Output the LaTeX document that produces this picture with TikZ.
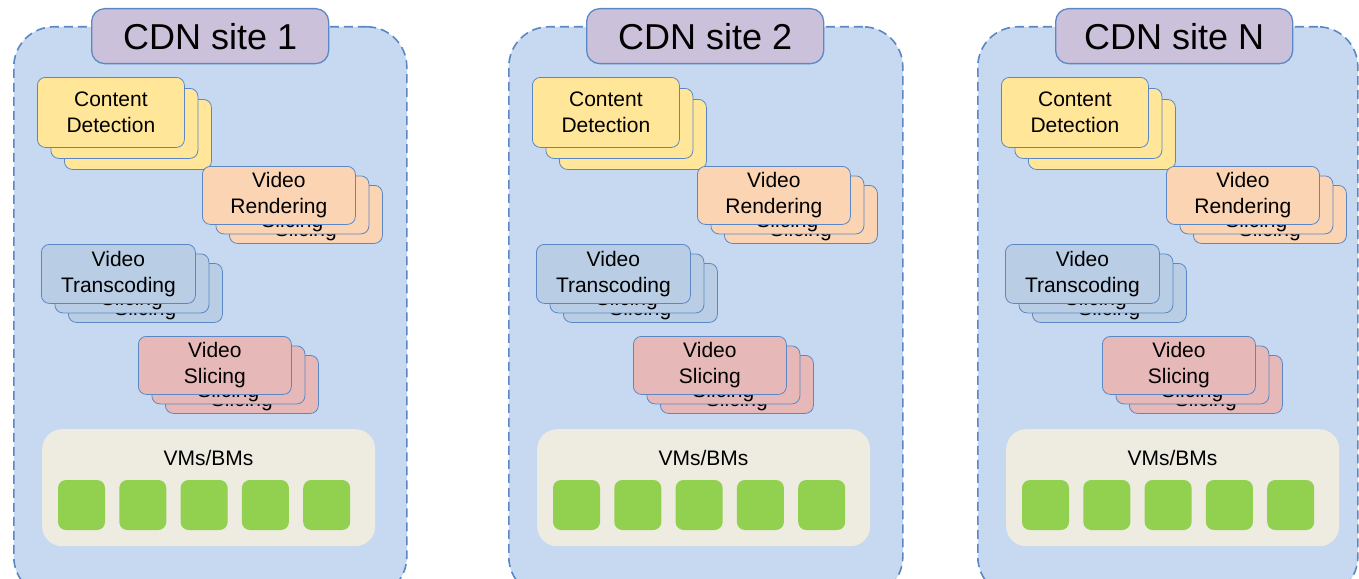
\documentclass[tikz,border=0pt]{standalone}
\usepackage{fontspec}
\setmainfont{Liberation Sans}
\definecolor{siteblue}{HTML}{C6D9F1}
\definecolor{siteline}{HTML}{5B87C5}
\definecolor{titlefill}{HTML}{CCC1DA}
\definecolor{detectfill}{HTML}{FFE699}
\definecolor{renderfill}{HTML}{FBD4B4}
\definecolor{transfill}{HTML}{B9CDE5}
\definecolor{slicefill}{HTML}{E6B9B8}
\definecolor{poolfill}{HTML}{EEECE1}
\definecolor{vmfill}{HTML}{92D050}
\tikzset{
	site/.style={draw=siteline, fill=siteblue, line width=1.6pt, dash pattern=on 9pt off 5pt,
		rounded corners=40pt, inner sep=0pt, anchor=north west},
	sitetitle/.style={draw=siteline, fill=titlefill, line width=1.3pt, rounded corners=13pt,
		minimum width=237pt, minimum height=55pt, inner sep=0pt, anchor=north west,
		font=\fontsize{36}{40}\selectfont},
	card/.style={draw=siteline, line width=0.8pt, rounded corners=8pt, inner sep=0pt,
		anchor=north west, align=center, font=\fontsize{21}{26}\selectfont},
	backtext/.style={inner sep=0pt, align=center, font=\fontsize{21}{26}\selectfont},
	pool/.style={fill=poolfill, rounded corners=20pt, minimum width=333pt, minimum height=117pt,
		inner sep=0pt, anchor=north west},
	vm/.style={fill=vmfill, rounded corners=8pt, minimum width=47pt, minimum height=50pt, inner sep=0pt},
}
\begin{document}
\begin{tikzpicture}[x=1pt, y=-1pt]
	\useasboundingbox (0,0) rectangle (1359,578);
	\clip (0,0) rectangle (1359,578);
	% one site per column: index / x offset / width / title
	\foreach \s/\ox/\sw/\sname in {1/0/393/1, 2/495/394/2, 3/964/380/N}{
		\begin{scope}[shift={(\ox,0)}]
			\node[site, minimum width=\sw pt, minimum height=570pt] (site\s) at (13,26) {};
			\node[sitetitle] (title\s) at (91,8) {CDN site \sname};
			% stacked service cards, back copies first
			\foreach \cx/\cy/\cw/\ch/\cdy/\tdy/\cfill/\cname/\ctext in {
				37/77/147/70/11/0/detectfill/det/{Content\\Detection},
				202/166/153/58/9.5/4/renderfill/ren/{Video\\Rendering},
				41/244/154/59/9.5/4/transfill/tra/{Video\\Transcoding},
				138/336/153/58/9.5/4/slicefill/sli/{Video\\Slicing}}{
				\foreach \k in {2,1}
					\node[card, fill=\cfill, minimum width=\cw pt, minimum height=\ch pt,
						label={[backtext, yshift=-\tdy pt]center:{Video\\Slicing}}]
						(site\s-\cname-\k) at (\cx+13.5*\k, \cy+\cdy*\k) {};
				\node[card, fill=\cfill, minimum width=\cw pt, minimum height=\ch pt]
					(site\s-\cname-0) at (\cx, \cy) {\ctext};
			}
			% machine pool
			\node[pool] (pool\s) at (42,429) {};
			\node[font=\fontsize{21}{25}\selectfont] (poollabel\s) at (208.5,458) {VMs/BMs};
			\foreach \j in {0,...,4}
				\node[vm] (vm\s-\j) at (81.5+61.3*\j, 505) {};
		\end{scope}
	}
\end{tikzpicture}
\end{document}
